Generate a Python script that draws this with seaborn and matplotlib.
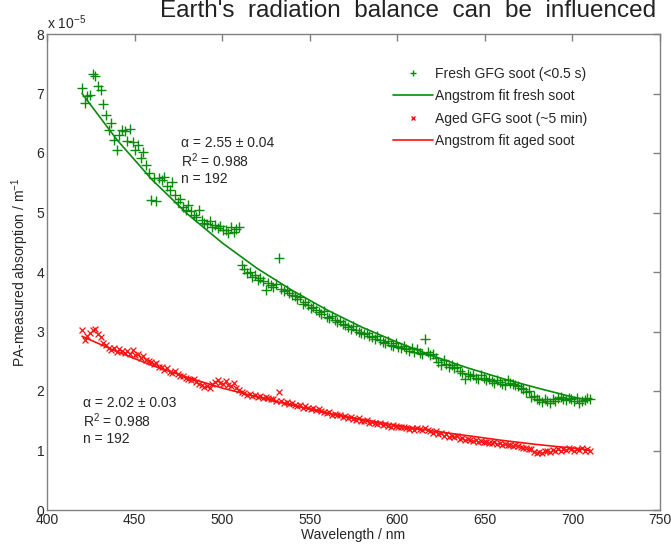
import numpy as np
import pandas as pd
import matplotlib
matplotlib.use("Agg")
import matplotlib.pyplot as plt
from matplotlib.lines import Line2D
import seaborn as sns

# ---- data (absorption in units of 1e-5 m^-1) ----
wl_start, wl_end, n_pts = 420.0, 710.0, 192

fresh_abs = [
    7.10, 6.84, 6.95, 6.98, 7.33, 7.30, 7.12, 7.06, 6.83, 6.64,
    6.39, 6.50, 6.22, 6.05, 6.30, 6.39, 6.37, 6.20, 6.40, 6.19,
    6.05, 6.13, 5.92, 6.02, 5.80, 5.66, 5.21, 5.58, 5.20, 5.58,
    5.55, 5.60, 5.45, 5.38, 5.52, 5.30, 5.18, 5.22, 5.10, 5.05,
    5.12, 5.02, 4.95, 4.93, 5.05, 4.88, 4.82, 4.80, 4.85, 4.76,
    4.79, 4.74, 4.78, 4.70, 4.71, 4.65, 4.75, 4.68, 4.72, 4.76,
    4.12, 4.05, 3.98, 4.00, 3.92, 3.95, 3.87, 3.90, 3.85, 3.70,
    3.82, 3.78, 3.75, 3.80, 4.23, 3.72, 3.68, 3.70, 3.65, 3.61,
    3.60, 3.55, 3.58, 3.47, 3.50, 3.44, 3.40, 3.42, 3.36, 3.33,
    3.30, 3.34, 3.25, 3.22, 3.26, 3.20, 3.16, 3.18, 3.12, 3.11,
    3.08, 3.05, 3.10, 3.02, 3.00, 2.98, 2.95, 2.97, 2.92, 2.90,
    2.88, 2.92, 2.85, 2.82, 2.80, 2.84, 2.78, 2.76, 2.80, 2.74,
    2.72, 2.75, 2.70, 2.68, 2.72, 2.66, 2.70, 2.64, 2.62, 2.87,
    2.66, 2.60, 2.62, 2.55, 2.48, 2.43, 2.52, 2.45, 2.40, 2.44,
    2.38, 2.40, 2.33, 2.30, 2.21, 2.28, 2.25, 2.27, 2.22, 2.20,
    2.27, 2.22, 2.18, 2.20, 2.16, 2.14, 2.18, 2.15, 2.12, 2.10,
    2.18, 2.14, 2.12, 2.10, 2.08, 2.05, 2.03, 1.98, 2.00, 1.90,
    1.92, 1.86, 1.85, 1.82, 1.87, 1.84, 1.80, 1.86, 1.83, 1.88,
    1.90, 1.87, 1.85, 1.88, 1.86, 1.84, 1.88, 1.80, 1.83, 1.85,
    1.88, 1.87,
]

aged_abs = [
    3.03, 2.86, 2.92, 2.98, 3.03, 3.05, 2.95, 2.90, 2.80, 2.78,
    2.72, 2.69, 2.73, 2.66, 2.70, 2.68, 2.64, 2.67, 2.62, 2.69,
    2.60, 2.63, 2.55, 2.58, 2.52, 2.50, 2.48, 2.45, 2.47, 2.41,
    2.40, 2.36, 2.38, 2.32, 2.30, 2.33, 2.28, 2.25, 2.26, 2.22,
    2.20, 2.18, 2.21, 2.15, 2.12, 2.10, 2.07, 2.09, 2.05, 2.12,
    2.15, 2.18, 2.14, 2.12, 2.16, 2.10, 2.08, 2.13, 2.05, 2.02,
    1.98, 1.96, 1.93, 1.95, 1.92, 1.93, 1.90, 1.92, 1.88, 1.90,
    1.88, 1.86, 1.87, 1.84, 1.99, 1.83, 1.80, 1.82, 1.78, 1.80,
    1.77, 1.75, 1.76, 1.72, 1.74, 1.71, 1.70, 1.72, 1.68, 1.69,
    1.66, 1.65, 1.63, 1.64, 1.60, 1.62, 1.59, 1.60, 1.57, 1.58,
    1.55, 1.56, 1.53, 1.52, 1.54, 1.50, 1.49, 1.51, 1.47, 1.48,
    1.46, 1.45, 1.47, 1.43, 1.44, 1.42, 1.40, 1.43, 1.41, 1.40,
    1.39, 1.40, 1.38, 1.36, 1.38, 1.35, 1.37, 1.36, 1.34, 1.37,
    1.35, 1.33, 1.30, 1.32, 1.28, 1.30, 1.25, 1.27, 1.23, 1.24,
    1.22, 1.24, 1.20, 1.21, 1.18, 1.20, 1.17, 1.16, 1.18, 1.15,
    1.16, 1.14, 1.15, 1.13, 1.12, 1.14, 1.11, 1.12, 1.10, 1.11,
    1.09, 1.10, 1.08, 1.09, 1.07, 1.06, 1.05, 1.04, 1.03, 1.02,
    0.98, 0.95, 0.97, 0.96, 0.99, 1.00, 0.98, 1.01, 0.99, 1.02,
    1.00, 1.03, 1.01, 1.04, 1.02, 1.00, 1.03, 1.01, 1.05, 1.00,
    1.03, 1.00,
]

fit_wl = [420, 440, 460, 480, 500, 520, 540, 560, 580, 600, 620, 640, 660, 680, 700, 710]
fit_fresh = [7.00, 6.22, 5.55, 4.98, 4.49, 4.06, 3.69, 3.36, 3.07, 2.82, 2.59, 2.39, 2.21, 2.05, 1.90, 1.84]
fit_aged = [2.92, 2.66, 2.43, 2.23, 2.05, 1.90, 1.76, 1.63, 1.52, 1.42, 1.33, 1.25, 1.17, 1.10, 1.04, 1.01]

x_ticks = [400, 450, 500, 550, 600, 650, 700, 750]
y_ticks = [0, 1, 2, 3, 4, 5, 6, 7, 8]

labels = ["Fresh GFG soot (<0.5 s)", "Angstrom fit fresh soot",
          "Aged GFG soot (~5 min)", "Angstrom fit aged soot"]
note_fresh = ["\u03b1 = 2.55 \u00b1 0.04", "R$^2$ = 0.988", "n = 192"]
note_aged = ["\u03b1 = 2.02 \u00b1 0.03", "R$^2$ = 0.988", "n = 192"]
title_text = "Earth's  radiation  balance  can  be  influenced"

GREEN = "#0a8a0a"
RED = "#ff1010"
AXC = "#808080"
TXT = "#262626"

# ---- figure ----
sns.set_theme(style="white")
plt.rcParams["font.family"] = ["Liberation Sans", "DejaVu Sans"]
plt.rcParams["mathtext.fontset"] = "custom"
plt.rcParams["mathtext.rm"] = "Liberation Sans"
plt.rcParams["mathtext.it"] = "Liberation Sans:italic"

W, H = 671, 545
fig = plt.figure(figsize=(W / 100, H / 100), dpi=100)
L, R, T, B = 47, 660, 34, 510
ax = fig.add_axes([L / W, 1 - B / H, (R - L) / W, (B - T) / H])

wl = np.linspace(wl_start, wl_end, n_pts)
df = pd.DataFrame({"wl": wl, "fresh": fresh_abs, "aged": aged_abs})
fit_df = pd.DataFrame({"wl": fit_wl, "fresh": fit_fresh, "aged": fit_aged})

sns.scatterplot(data=df, x="wl", y="fresh", marker="+", s=45, color=GREEN,
                linewidth=1.0, ax=ax, legend=False, zorder=3)
sns.lineplot(data=fit_df, x="wl", y="fresh", color=GREEN, lw=1.2, ax=ax,
             legend=False, zorder=4)
sns.scatterplot(data=df, x="wl", y="aged", marker="x", s=18, color=RED,
                linewidth=0.9, ax=ax, legend=False, zorder=3)
sns.lineplot(data=fit_df, x="wl", y="aged", color=RED, lw=1.2, ax=ax,
             legend=False, zorder=4)

ax.set_xlim(400, 750)
ax.set_ylim(0, 8)
ax.set_xticks(x_ticks)
ax.set_yticks(y_ticks)
ax.set_xlabel("Wavelength / nm", fontsize=10, color=TXT, labelpad=1)
ax.set_ylabel("PA-measured absorption / m$^{-1}$", fontsize=10, color=TXT, labelpad=4)

for s in ax.spines.values():
    s.set_visible(True)
    s.set_color(AXC)
    s.set_linewidth(1.0)
ax.tick_params(axis="both", which="both", direction="in", length=5, width=1,
               color=AXC, labelsize=10, labelcolor=TXT, top=True, right=True,
               pad=2)

ax.text(0.0, 1.005, "x 10$^{-5}$", transform=ax.transAxes, fontsize=10,
        color=TXT, ha="left", va="bottom")

handles = [
    Line2D([], [], ls="none", marker="+", color=GREEN, markersize=5, mew=1.0),
    Line2D([], [], color=GREEN, lw=1.2),
    Line2D([], [], ls="none", marker="x", color=RED, markersize=3.5, mew=1.0),
    Line2D([], [], color=RED, lw=1.2),
]
leg = ax.legend(handles, labels, loc="upper left", frameon=False, fontsize=10,
                bbox_to_anchor=((386) / W, 1 - 60 / H),
                bbox_transform=fig.transFigure, handlelength=2.9,
                handletextpad=0.15, labelspacing=0.6, borderpad=0)
for t in leg.get_texts():
    t.set_color(TXT)

for i, line in enumerate(note_fresh):
    fig.text(181 / W, 1 - (143 + 18 * i) / H, line, fontsize=10, color=TXT,
             ha="left", va="center")
for i, line in enumerate(note_aged):
    fig.text(83 / W, 1 - (403 + 18 * i) / H, line, fontsize=10, color=TXT,
             ha="left", va="center")

fig.text(160 / W, 1 - 17 / H, title_text, fontsize=17.5, color="#222222",
         ha="left", va="baseline")

fig.savefig("out.png", dpi=100, facecolor="white")
